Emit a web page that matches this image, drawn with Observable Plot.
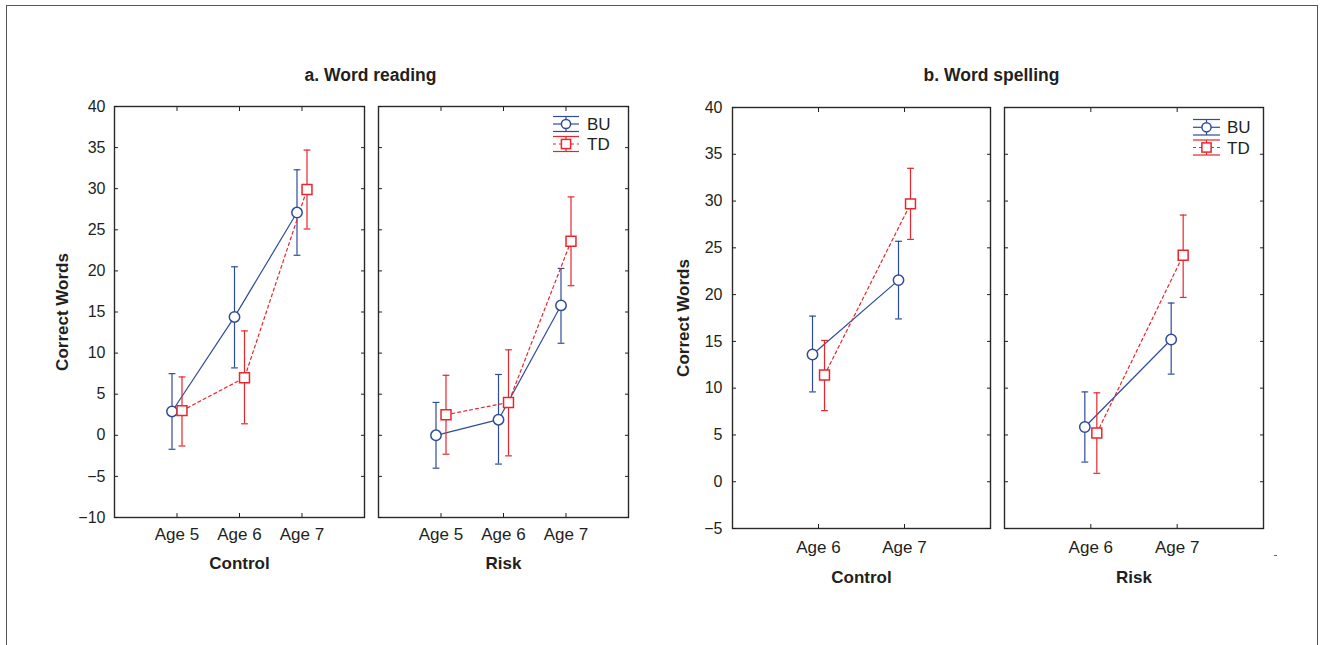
<!DOCTYPE html>
<html>
<head>
<meta charset="utf-8">
<script src="https://cdn.jsdelivr.net/npm/d3@7"></script>
<script src="https://cdn.jsdelivr.net/npm/@observablehq/plot@0.6"></script>
<style>
  body { margin: 0; background: #fff; overflow: hidden; }
  #fig { position: relative; width: 1321px; height: 645px; overflow: hidden; font-family: "Liberation Sans", Arial, sans-serif; color: #231f20; }
  #fig > svg, #fig > figure { position: absolute; left: 0; top: 0; margin: 0; }
  .border { position: absolute; left: 6px; top: 5px; width: 1312px; height: 700px; border: 1.5px solid #555; box-sizing: border-box; }
  .speck { position: absolute; left: 1274px; top: 555px; width: 3px; height: 1px; background: #e8262c; }
</style>
</head>
<body>
<div id="fig"><div class="border"></div><div class="speck"></div></div>
<script>
// ---------- data ----------
const groups = ["Control", "Risk"];
const seriesNames = ["BU", "TD"];
const agesReading = ["Age 5", "Age 6", "Age 7"];
const agesSpelling = ["Age 6", "Age 7"];
const yTicksReading = [-10, -5, 0, 5, 10, 15, 20, 25, 30, 35, 40];
const yTicksSpelling = [-5, 0, 5, 10, 15, 20, 25, 30, 35, 40];
const yLabel = "Correct Words";
const titleReading = "a. Word reading";
const titleSpelling = "b. Word spelling";

// each entry: [mean, lower error, upper error] per age
const readingControlBU = [[2.9, -1.7, 7.5], [14.4, 8.2, 20.5], [27.1, 21.9, 32.3]];
const readingControlTD = [[3.0, -1.3, 7.1], [7.0, 1.4, 12.7], [29.9, 25.1, 34.7]];
const readingRiskBU    = [[0.0, -4.0, 4.0], [1.9, -3.5, 7.4], [15.8, 11.2, 20.3]];
const readingRiskTD    = [[2.5, -2.3, 7.3], [4.0, -2.5, 10.4], [23.6, 18.2, 29.0]];
const spellingControlBU = [[13.6, 9.6, 17.7], [21.55, 17.4, 25.7]];
const spellingControlTD = [[11.4, 7.6, 15.1], [29.7, 25.9, 33.5]];
const spellingRiskBU    = [[5.85, 2.1, 9.6], [15.2, 11.5, 19.1]];
const spellingRiskTD    = [[5.2, 0.9, 9.5], [24.2, 19.7, 28.5]];

// ---------- styling ----------
const colorBU = "#2f4c9c";
const colorTD = "#e8262c";
const ink = "#231f20";
const font = "'Liberation Sans', Arial, Helvetica, sans-serif";

const capSymbol = {
  draw(context, size) {
    const w = Math.sqrt(size / Math.PI);
    context.moveTo(-w, 0);
    context.lineTo(w, 0);
  }
};

function toRows(ages, vals) {
  return ages.map((age, i) => ({age, mean: vals[i][0], lo: vals[i][1], hi: vals[i][2]}));
}

function seriesMarks(data, color, dash, dx) {
  return [
    Plot.ruleX(data, {x: "age", y1: "lo", y2: "hi", stroke: color, strokeWidth: 1.2, dx}),
    Plot.dot(data, {x: "age", y: "hi", symbol: capSymbol, r: 3.4, stroke: color, fill: "none", strokeWidth: 1.2, dx}),
    Plot.dot(data, {x: "age", y: "lo", symbol: capSymbol, r: 3.4, stroke: color, fill: "none", strokeWidth: 1.2, dx}),
    Plot.line(data, {x: "age", y: "mean", stroke: color, strokeWidth: 1.2, strokeDasharray: dash, dx})
  ];
}

function panel(o) {
  const bu = toRows(o.ages, o.bu);
  const td = toRows(o.ages, o.td);
  const marks = [
    ...seriesMarks(bu, colorBU, null, -o.off),
    ...seriesMarks(td, colorTD, "3,3", o.off),
    Plot.dot(bu, {x: "age", y: "mean", symbol: "circle", r: 5.2, fill: "white", stroke: colorBU, strokeWidth: 1.5, dx: -o.off}),
    Plot.dot(td, {x: "age", y: "mean", symbol: "square", r: 5.6, fill: "white", stroke: colorTD, strokeWidth: 1.5, dx: o.off}),
    Plot.frame({stroke: "#2a2a2a", strokeWidth: 1.4}),
    Plot.axisY({anchor: "left", ticks: o.yTicks, tickSize: -4, tickPadding: o.yTickPad, fontSize: 16, label: null,
                tickFormat: o.showY ? (d => d3.format("")(d).replace("-", "\u2212")) : () => ""}),
    Plot.axisY({anchor: "right", ticks: o.yTicks, tickSize: -4, tickFormat: () => "", label: null}),
    Plot.axisX({anchor: "bottom", tickSize: -4, tickPadding: o.xTickPad, fontSize: 17, label: null}),
    Plot.axisX({anchor: "top", tickSize: -4, tickFormat: () => "", label: null}),
    Plot.text([o.group], {text: d => d, frameAnchor: "bottom", dy: o.xLabelDy, lineAnchor: "middle", fontSize: 17, fontWeight: "bold"})
  ];
  if (o.showY) {
    marks.push(Plot.text([yLabel], {text: d => d, frameAnchor: "left", dx: o.yLabelDx, rotate: -90, textAnchor: "middle", lineAnchor: "middle", fontSize: 17, fontWeight: "bold"}));
  }
  if (o.title) {
    marks.push(Plot.text([o.title], {text: d => d, frameAnchor: "top", dx: o.titleDx, dy: o.titleDy, lineAnchor: "middle", fontSize: 17.5, fontWeight: "bold"}));
  }
  return Plot.plot({
    width: 1321, height: 645,
    marginLeft: o.ml, marginRight: o.mr, marginTop: o.mt, marginBottom: o.mb,
    x: {type: "point", domain: o.ages, padding: 1, round: false},
    y: {domain: o.yDomain, nice: false},
    style: {background: "transparent", overflow: "visible", fontFamily: font, color: ink},
    marks
  });
}

const fig = document.getElementById("fig");
const specs = [
  {ages: agesReading, bu: readingControlBU, td: readingControlTD, group: groups[0], yDomain: [-10, 40], yTicks: yTicksReading,
   ml: 114, mr: 957, mt: 106, mb: 128, showY: true, yTickPad: 13, xTickPad: 14, yLabelDx: -52, xLabelDy: 46,
   title: titleReading, titleDx: 131, titleDy: -31, off: 5},
  {ages: agesReading, bu: readingRiskBU, td: readingRiskTD, group: groups[1], yDomain: [-10, 40], yTicks: yTicksReading,
   ml: 378, mr: 693, mt: 106, mb: 128, showY: false, yTickPad: 13, xTickPad: 14, xLabelDy: 46, off: 5},
  {ages: agesSpelling, bu: spellingControlBU, td: spellingControlTD, group: groups[0], yDomain: [-5, 40], yTicks: yTicksSpelling,
   ml: 732, mr: 331, mt: 107, mb: 117, showY: true, yTickPad: 14, xTickPad: 16, yLabelDx: -49, xLabelDy: 49,
   title: titleSpelling, titleDx: 130, titleDy: -32, off: 6},
  {ages: agesSpelling, bu: spellingRiskBU, td: spellingRiskTD, group: groups[1], yDomain: [-5, 40], yTicks: yTicksSpelling,
   ml: 1004, mr: 58, mt: 107, mb: 117, showY: false, yTickPad: 14, xTickPad: 16, xLabelDy: 49, off: 6}
];
for (const s of specs) fig.appendChild(panel(s));

// ---------- legends (in the Risk panels) ----------
function legendSvg(x0, x1, rows, textX) {
  const cx = (x0 + x1) / 2;
  let g = "";
  for (const r of rows) {
    const dash = r.dash ? ` stroke-dasharray="${r.dash}"` : "";
    g += `<line x1="${x0}" x2="${x1}" y1="${r.top}" y2="${r.top}" stroke="${r.color}" stroke-width="1.2"/>`;
    g += `<line x1="${x0}" x2="${x1}" y1="${r.bot}" y2="${r.bot}" stroke="${r.color}" stroke-width="1.2"/>`;
    g += `<line x1="${cx}" x2="${cx}" y1="${r.top}" y2="${r.bot}" stroke="${r.color}" stroke-width="1.2"/>`;
    g += `<line x1="${x0}" x2="${x1}" y1="${r.mid}" y2="${r.mid}" stroke="${r.color}" stroke-width="1.2"${dash}/>`;
    if (r.shape === "circle") {
      g += `<circle cx="${cx}" cy="${r.mid}" r="4.6" fill="white" stroke="${r.color}" stroke-width="1.5"/>`;
    } else {
      g += `<rect x="${cx - 4.6}" y="${r.mid - 4.6}" width="9.2" height="9.2" fill="white" stroke="${r.color}" stroke-width="1.5"/>`;
    }
    g += `<text x="${textX}" y="${r.mid}" dy="0.36em" font-size="17" fill="${ink}" font-family="${font.replace(/'/g, "")}">${r.label}</text>`;
  }
  return g;
}
const legend = document.createElementNS("http://www.w3.org/2000/svg", "svg");
legend.setAttribute("width", 1321);
legend.setAttribute("height", 645);
legend.style.position = "absolute";
legend.style.left = "0";
legend.style.top = "0";
legend.innerHTML =
  legendSvg(553, 579, [
    {label: seriesNames[0], color: colorBU, shape: "circle", top: 116.5, mid: 124, bot: 131.5},
    {label: seriesNames[1], color: colorTD, shape: "square", dash: "3,3", top: 136.5, mid: 144, bot: 151.5}
  ], 587) +
  legendSvg(1193, 1220, [
    {label: seriesNames[0], color: colorBU, shape: "circle", top: 119.5, mid: 127.3, bot: 135},
    {label: seriesNames[1], color: colorTD, shape: "square", dash: "3,3", top: 140, mid: 147.5, bot: 155}
  ], 1227);
fig.appendChild(legend);
</script>
</body>
</html>
